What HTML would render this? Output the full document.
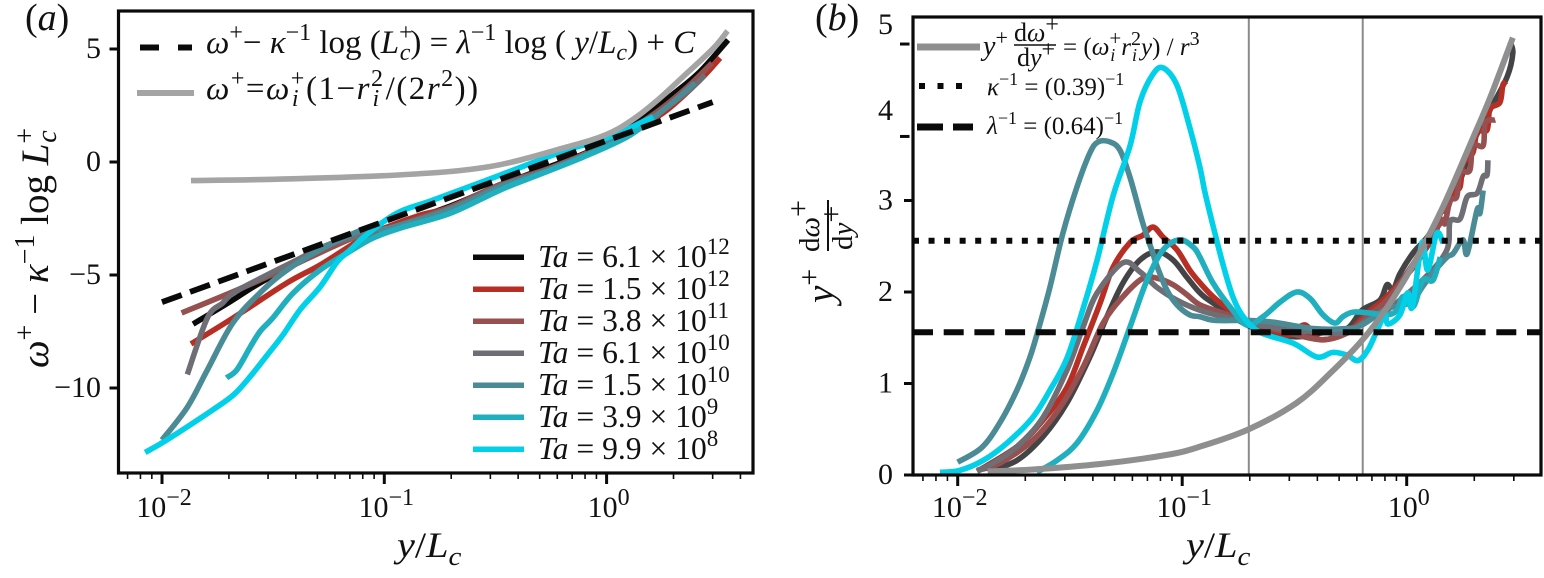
<!DOCTYPE html>
<html lang="en">
<head>
<meta charset="utf-8">
<title>Angular velocity profiles</title>
<style>
html,body{margin:0;padding:0;background:#fff;width:1544px;height:578px;overflow:hidden}
svg{display:block}
text{font-family:"Liberation Serif",serif;fill:#111}
.i{font-style:italic}
</style>
</head>
<body>
<svg id="chart" width="1544" height="578" viewBox="0 0 1544 578" xmlns="http://www.w3.org/2000/svg">
  <rect x="0" y="0" width="1544" height="578" fill="#fff"/>
  <g id="panelA"></g>
  <g id="panelB"></g>

  <g id="textA">
    <text x="25" y="30" font-size="38">(<tspan class="i">a</tspan>)</text>
    <text transform="translate(48,368) rotate(-90)" font-size="39"><tspan class="i">ω</tspan><tspan font-size="28" dy="-14">+</tspan><tspan dy="14"> − </tspan><tspan class="i">κ</tspan><tspan font-size="28" dy="-14">−1</tspan><tspan dy="14"> log </tspan><tspan class="i">L</tspan><tspan font-size="28" dy="-14">+</tspan><tspan font-size="28" class="i" dx="-15" dy="22">c</tspan></text>
    <text transform="translate(397,557) scale(1.12,1)" font-size="36"><tspan class="i">y</tspan>/<tspan class="i">L</tspan><tspan class="i" font-size="26" dy="8">c</tspan></text>

    <text x="206" y="53" font-size="33"><tspan class="i">ω</tspan><tspan font-size="24" dy="-13">+</tspan><tspan dy="13">− </tspan><tspan class="i">κ</tspan><tspan font-size="24" dy="-13">−1</tspan><tspan dy="13"> log (</tspan><tspan class="i">L</tspan><tspan font-size="24" dy="-13">+</tspan><tspan font-size="24" class="i" dx="-13" dy="20">c</tspan><tspan dy="-7">) = </tspan><tspan class="i">λ</tspan><tspan font-size="24" dy="-13">−1</tspan><tspan dy="13"> log ( </tspan><tspan class="i">y</tspan>/<tspan class="i">L</tspan><tspan font-size="24" class="i" dy="7">c</tspan><tspan dy="-7">) + </tspan><tspan class="i">C</tspan></text>
    <text x="206" y="99" font-size="33" letter-spacing="1.5"><tspan class="i">ω</tspan><tspan font-size="24" dy="-13">+</tspan><tspan dy="13">=</tspan><tspan class="i">ω</tspan><tspan font-size="24" dy="-13">+</tspan><tspan font-size="24" class="i" dx="-14" dy="20">i</tspan><tspan dx="6" dy="-7">(1−</tspan><tspan class="i">r</tspan><tspan font-size="24" dy="-13">2</tspan><tspan font-size="24" class="i" dx="-12" dy="20">i</tspan><tspan dx="5" dy="-7">/(2</tspan><tspan class="i">r</tspan><tspan font-size="24" dy="-13">2</tspan><tspan dy="13">))</tspan></text>

    <g font-size="31.6">
      <text x="538" y="267"><tspan class="i">Ta</tspan> = 6.1 × 10<tspan font-size="23" dy="-13">12</tspan></text>
      <text x="538" y="299"><tspan class="i">Ta</tspan> = 1.5 × 10<tspan font-size="23" dy="-13">12</tspan></text>
      <text x="538" y="331"><tspan class="i">Ta</tspan> = 3.8 × 10<tspan font-size="23" dy="-13">11</tspan></text>
      <text x="538" y="363"><tspan class="i">Ta</tspan> = 6.1 × 10<tspan font-size="23" dy="-13">10</tspan></text>
      <text x="538" y="395"><tspan class="i">Ta</tspan> = 1.5 × 10<tspan font-size="23" dy="-13">10</tspan></text>
      <text x="538" y="427"><tspan class="i">Ta</tspan> = 3.9 × 10<tspan font-size="23" dy="-13">9</tspan></text>
      <text x="538" y="459"><tspan class="i">Ta</tspan> = 9.9 × 10<tspan font-size="23" dy="-13">8</tspan></text>
    </g>
  </g>

  <g id="textB">
    <text x="815" y="30" font-size="38">(<tspan class="i">b</tspan>)</text>
    <g>
      <text transform="translate(833,303) rotate(-90)" font-size="39"><tspan class="i">y</tspan><tspan font-size="30" dy="-14">+</tspan></text>
      <text transform="translate(819,252) rotate(-90)" font-size="29">d<tspan class="i">ω</tspan><tspan font-size="30" dy="-11">+</tspan></text>
      <line x1="828" y1="200" x2="828" y2="251" stroke="#111" stroke-width="2"/>
      <text transform="translate(852,250) rotate(-90)" font-size="29">d<tspan class="i">y</tspan><tspan font-size="30" dy="-11">+</tspan></text>
    </g>
    <text transform="translate(1186,557) scale(1.12,1)" font-size="36"><tspan class="i">y</tspan>/<tspan class="i">L</tspan><tspan class="i" font-size="26" dy="8">c</tspan></text>

    <text x="983" y="55" font-size="28"><tspan class="i">y</tspan><tspan font-size="22" dy="-10">+</tspan></text>
    <text x="1014" y="41" font-size="26">d<tspan class="i">ω</tspan><tspan font-size="24" dy="-9">+</tspan></text>
    <line x1="1014" y1="45" x2="1056" y2="45" stroke="#111" stroke-width="1.5"/>
    <text x="1017" y="66" font-size="26">d<tspan class="i">y</tspan><tspan font-size="24" dy="-9">+</tspan></text>
    <text x="1063" y="55" font-size="25">= (<tspan class="i">ω</tspan><tspan font-size="21" dy="-10">+</tspan><tspan font-size="18" class="i" dx="-11" dy="16">i</tspan><tspan class="i" dx="6" dy="-6">r</tspan><tspan font-size="20" dy="-10">2</tspan><tspan font-size="18" class="i" dx="-9" dy="16">i</tspan><tspan class="i" dx="4" dy="-6">y</tspan>) / <tspan class="i">r</tspan><tspan font-size="20" dy="-10">3</tspan></text>
    <text x="987" y="95" font-size="25"><tspan class="i">κ</tspan><tspan font-size="18" dy="-10">−1</tspan><tspan dy="10"> = (0.39)</tspan><tspan font-size="18" dy="-10">−1</tspan></text>
    <text x="987" y="134" font-size="25"><tspan class="i">λ</tspan><tspan font-size="18" dy="-10">−1</tspan><tspan dy="10"> = (0.64)</tspan><tspan font-size="18" dy="-10">−1</tspan></text>
  </g>
</svg>
<script>
// ---------- shared tick data ----------
const xTickDecades = [-2, -1, 0];
const xTickLabelBase = ["10", "10", "10"];
const xTickLabelExp = ["−2", "−1", "0"];
const xMinorMultipliers = [2, 3, 4, 5, 6, 7, 8, 9];

// ---------- panel (a) data ----------
const aYTicks = [5, 0, -5, -10];
const aYTickLabels = ["5", "0", "−5", "−10"];

const aLogLawX = [0.01, 3.0];
const aLogLawY = [-6.2, 2.65];
const aOuterX = [0.0135, 0.03, 0.118, 0.3, 0.66, 1.0, 1.32, 1.7, 2.2, 3.0, 3.5];
const aOuterY = [-0.82, -0.77, -0.57, -0.2, 0.66, 1.22, 1.9, 2.75, 3.76, 5.0, 5.8];

const aBlackX = [0.0138, 0.0202, 0.0276, 0.0418, 0.0724, 0.103, 0.198, 0.332, 0.557, 0.784, 1.0, 1.41, 1.99, 2.63, 3.52];
const aBlackY = [-7.17, -6.19, -5.35, -4.42, -3.32, -2.9, -1.95, -1.02, -0.2, 0.35, 0.85, 1.85, 3.0, 4.0, 5.4];
const aRedX = [0.0135, 0.0209, 0.0365, 0.0514, 0.0778, 0.103, 0.145, 0.198, 0.332, 0.557, 1.0, 1.41, 1.87, 2.63, 3.24];
const aRedY = [-8.05, -6.9, -5.35, -4.56, -3.45, -2.88, -2.35, -2.0, -1.0, -0.27, 0.75, 1.55, 2.3, 3.63, 4.6];
const aMauveX = [0.01225, 0.0218, 0.0365, 0.0724, 0.103, 0.198, 0.332, 0.557, 1.0, 1.62, 2.3, 2.98];
const aMauveY = [-6.68, -5.66, -4.69, -3.36, -2.95, -2.0, -1.0, -0.27, 0.8, 2.1, 3.3, 4.38];
const aGrayX = [0.013, 0.016, 0.0187, 0.0209, 0.0285, 0.0389, 0.0588, 0.103, 0.198, 0.332, 0.557, 1.0, 1.62, 2.3, 2.77];
const aGrayY = [-9.4, -6.9, -6.25, -5.8, -5.09, -4.42, -3.58, -2.95, -2.05, -1.05, -0.3, 0.75, 2.0, 3.1, 3.85];
const aDarkTealX = [0.01, 0.013, 0.016, 0.0209, 0.0285, 0.0365, 0.0514, 0.0837, 0.103, 0.198, 0.332, 0.557, 1.0, 1.62, 2.5];
const aDarkTealY = [-12.3, -10.85, -9.2, -7.1, -5.66, -4.78, -3.89, -2.92, -2.95, -2.1, -1.1, -0.35, 0.75, 1.95, 3.5];
const aTealX = [0.0195, 0.0217, 0.0249, 0.0276, 0.0315, 0.0389, 0.0514, 0.068, 0.0891, 0.122, 0.198, 0.332, 0.467, 0.785, 1.23, 1.63];
const aTealY = [-9.55, -9.2, -8.2, -7.5, -6.9, -5.8, -4.78, -4.03, -3.36, -2.88, -2.27, -1.24, -0.66, 0.22, 1.1, 1.95];
const aCyanX = [0.0084, 0.0105, 0.0169, 0.021, 0.0249, 0.0297, 0.035, 0.0417, 0.0514, 0.0614, 0.0702, 0.0837, 0.114, 0.166, 0.332, 0.664, 1.0, 1.62];
const aCyanY = [-12.85, -12.3, -10.97, -10.3, -9.5, -8.55, -7.65, -6.55, -5.53, -4.42, -3.89, -3.2, -2.26, -1.68, -0.58, 0.53, 1.05, 2.0];

// ---------- panel (b) data ----------
const bYTickMarks = [0, 1, 2, 3, 3.7, 4.71];
const bYLabelPositions = [0, 1, 2, 3, 3.98, 4.92];
const bYTickLabels = ["0", "1", "2", "3", "4", "5"];
const bVerticalGuides = [0.198, 0.637];
const bKappaInverse = [2.56];
const bLambdaInverse = [1.56];

const bBlackX = [0.0136, 0.01837, 0.024, 0.0307, 0.0388, 0.0462, 0.0545, 0.0649, 0.0773, 0.091, 0.105, 0.12, 0.137, 0.194, 0.254, 0.324, 0.411, 0.542, 0.632, 0.76, 0.817, 0.869, 0.933, 1.07, 1.27, 1.51, 1.73, 1.97, 2.35, 2.8, 2.97, 2.89];
const bBlackY = [0.04, 0.16, 0.42, 0.79, 1.29, 1.73, 2.1, 2.35, 2.44, 2.35, 2.16, 1.99, 1.88, 1.64, 1.55, 1.51, 1.55, 1.6, 1.8, 1.91, 2.08, 2.02, 2.2, 2.43, 2.64, 3.0, 3.22, 3.63, 3.99, 4.35, 4.61, 4.73];
const bRedX = [0.0122, 0.01837, 0.024, 0.0307, 0.0362, 0.0431, 0.0492, 0.0586, 0.0668, 0.0741, 0.0822, 0.0948, 0.108, 0.12, 0.137, 0.163, 0.194, 0.254, 0.302, 0.352, 0.411, 0.542, 0.665, 0.76, 0.869, 1.07, 1.27, 1.34, 1.41, 1.51, 1.61, 1.73, 1.78, 1.97, 2.06, 2.28, 2.35, 2.6, 2.68, 2.77];
const bRedY = [0.04, 0.31, 0.6, 0.96, 1.4, 1.88, 2.27, 2.54, 2.62, 2.71, 2.6, 2.46, 2.24, 2.1, 1.95, 1.8, 1.67, 1.58, 1.53, 1.64, 1.48, 1.56, 1.77, 1.88, 2.02, 2.27, 2.54, 2.6, 2.86, 2.9, 3.08, 3.15, 3.4, 3.52, 3.75, 3.77, 4.0, 4.07, 4.26, 4.3];
const bMauveX = [0.0122, 0.0154, 0.0216, 0.0286, 0.0362, 0.0444, 0.0545, 0.0668, 0.0773, 0.091, 0.105, 0.12, 0.152, 0.194, 0.273, 0.411, 0.542, 0.665, 0.869, 1.41, 1.48, 1.56, 1.67, 1.73, 1.91, 1.97, 2.19, 2.24, 2.48];
const bMauveY = [0.05, 0.13, 0.38, 0.74, 1.18, 1.66, 1.95, 2.15, 2.15, 2.08, 1.97, 1.86, 1.77, 1.67, 1.58, 1.48, 1.55, 1.73, 1.99, 2.75, 2.75, 3.0, 3.04, 3.3, 3.33, 3.6, 3.6, 3.85, 3.88];
const bGrayX = [0.0122, 0.01436, 0.01837, 0.024, 0.0307, 0.0362, 0.0418, 0.0545, 0.0649, 0.0773, 0.0948, 0.12, 0.152, 0.194, 0.273, 0.411, 0.542, 0.665, 0.817, 1.2, 1.51, 1.56, 1.73, 1.86, 2.06, 2.19, 2.28, 2.3];
const bGrayY = [0.04, 0.13, 0.31, 0.63, 1.15, 1.62, 1.99, 2.32, 2.22, 2.05, 1.91, 1.8, 1.73, 1.67, 1.6, 1.56, 1.56, 1.69, 1.8, 2.15, 2.46, 2.77, 2.8, 3.04, 3.08, 3.26, 3.28, 3.44];
const bDarkTealX = [0.01, 0.0128, 0.0154, 0.01837, 0.021, 0.0233, 0.0258, 0.0294, 0.034, 0.0388, 0.0422, 0.0477, 0.0528, 0.0586, 0.0668, 0.0741, 0.0773, 0.0855, 0.0948, 0.108, 0.12, 0.14, 0.194, 0.254, 0.383, 0.542, 0.632, 0.817, 0.906, 1.06, 1.17, 1.3, 1.51, 1.61, 1.78, 1.86, 2.06, 2.12, 2.19];
const bDarkTealY = [0.14, 0.3, 0.57, 0.93, 1.29, 1.66, 2.06, 2.64, 3.15, 3.52, 3.64, 3.64, 3.55, 3.25, 2.75, 2.42, 2.28, 2.02, 1.86, 1.75, 1.73, 1.69, 1.69, 1.67, 1.6, 1.6, 1.64, 1.82, 1.84, 1.9, 2.05, 2.2, 2.38, 2.42, 2.57, 2.42, 2.9, 2.86, 3.11];
const bTealX = [0.0225, 0.0277, 0.034, 0.0418, 0.0492, 0.0586, 0.0697, 0.0822, 0.0977, 0.112, 0.12, 0.137, 0.163, 0.194, 0.229, 0.273, 0.324, 0.371, 0.424, 0.479, 0.519, 0.577, 0.687, 0.817, 0.906, 0.963, 1.07, 1.18, 1.31, 1.41];
const bTealY = [0.03, 0.16, 0.35, 0.71, 1.11, 1.62, 2.13, 2.46, 2.57, 2.49, 2.38, 2.1, 1.84, 1.64, 1.73, 1.89, 2.0, 1.93, 1.75, 1.66, 1.73, 1.78, 1.77, 1.75, 1.8, 1.95, 1.84, 2.13, 2.13, 2.38];
const bCyanX = [0.00834, 0.0102, 0.013, 0.0166, 0.0216, 0.0258, 0.0307, 0.0362, 0.0418, 0.0492, 0.0586, 0.0649, 0.0741, 0.0822, 0.0948, 0.108, 0.12, 0.126, 0.137, 0.152, 0.168, 0.187, 0.222, 0.312, 0.398, 0.469, 0.542, 0.607, 0.673, 0.738, 0.8, 0.826, 0.933, 1.01, 1.06, 1.17, 1.24, 1.36, 1.45];
const bCyanY = [0.03, 0.05, 0.16, 0.35, 0.63, 0.93, 1.28, 1.82, 2.35, 3.05, 3.6, 4.08, 4.38, 4.45, 4.26, 3.8, 3.36, 3.1, 2.73, 2.3, 1.95, 1.73, 1.56, 1.44, 1.29, 1.34, 1.31, 1.25, 1.37, 1.58, 1.75, 1.65, 1.75, 1.99, 1.84, 2.54, 2.24, 2.64, 2.54];
const bProfileX = [0.0136, 0.0216, 0.0431, 0.0855, 0.12, 0.198, 0.324, 0.46, 0.637, 0.817, 1.07, 1.45, 1.97, 2.35, 2.97];
const bProfileY = [0.04, 0.06, 0.12, 0.22, 0.31, 0.5, 0.79, 1.12, 1.48, 1.83, 2.3, 2.93, 3.68, 4.12, 4.78];

// ---------- legend styling ----------
const COLORS = {black:"#0a0a0a", darkGray:"#444446", red:"#b72f24", mauve:"#95504f", gray:"#6e6e74", darkTeal:"#4a8b96", teal:"#20afbe", cyan:"#02d0e8", outerA:"#a4a4a4", outerB:"#8f8f8f"};
const LW = 5.6;

const SVGNS = "http://www.w3.org/2000/svg";
function make(tag, parent, attrs) {
  const el = document.createElementNS(SVGNS, tag);
  for (const k in attrs) el.setAttribute(k, attrs[k]);
  parent.appendChild(el);
  return el;
}

function scales(p) {
  return {
    x: v => p.x0 + p.decade * (Math.log10(v) + 2),
    y: v => p.y0 - p.unit * v
  };
}

function smoothPath(pts) {
  let d = "M" + pts[0][0].toFixed(2) + "," + pts[0][1].toFixed(2);
  for (let i = 0; i < pts.length - 1; i++) {
    const p0 = pts[Math.max(i - 1, 0)], p1 = pts[i], p2 = pts[i + 1], p3 = pts[Math.min(i + 2, pts.length - 1)];
    const c1x = p1[0] + (p2[0] - p0[0]) / 6, c1y = p1[1] + (p2[1] - p0[1]) / 6;
    const c2x = p2[0] - (p3[0] - p1[0]) / 6, c2y = p2[1] - (p3[1] - p1[1]) / 6;
    d += "C" + c1x.toFixed(2) + "," + c1y.toFixed(2) + " " + c2x.toFixed(2) + "," + c2y.toFixed(2) + " " + p2[0].toFixed(2) + "," + p2[1].toFixed(2);
  }
  return d;
}

function drawSeries(g, s, xs, ys, color, width, name, dash) {
  const pts = xs.map((v, i) => [s.x(v), s.y(ys[i])]);
  const attrs = {d: smoothPath(pts), fill: "none", stroke: color, "stroke-width": width, "stroke-linejoin": "round"};
  if (dash) attrs["stroke-dasharray"] = dash;
  const el = make("path", g, attrs);
  
  
  return el;
}

function drawLegendLine(g, x1, x2, y, color, width, name, dash) {
  const attrs = {x1: x1, x2: x2, y1: y, y2: y, stroke: color, "stroke-width": width};
  if (dash) attrs["stroke-dasharray"] = dash;
  const el = make("line", g, attrs);
  
  
}

function drawFrame(g, p) {
  const el = make("rect", g, {x: p.left, y: p.top, width: p.right - p.left, height: p.bottom - p.top, fill: "none", stroke: "#0a0a0a", "stroke-width": 3.2});
  
  
}

function drawXAxis(g, p, s) {
  xTickDecades.forEach((dec, i) => {
    const px = s.x(Math.pow(10, dec));
    const tick = make("line", g, {x1: px, x2: px, y1: p.bottom, y2: p.bottom + 11, stroke: "#0a0a0a", "stroke-width": 3});
    
    
    const t = make("text", g, {x: px + 2, y: 517, "font-size": 30, "text-anchor": "middle"});
    
    
    t.textContent = xTickLabelBase[i];
    const sup = make("tspan", t, {"font-size": 24, dy: -12});
    sup.textContent = xTickLabelExp[i];
  });
  [-3, -2, -1, 0].forEach(dec => {
    xMinorMultipliers.forEach(m => {
      const v = m * Math.pow(10, dec);
      const px = s.x(v);
      if (px <= p.left + 2 || px >= p.right - 2) return;
      const tick = make("line", g, {x1: px, x2: px, y1: p.bottom, y2: p.bottom + 6, stroke: "#0a0a0a", "stroke-width": 1.6});
      
      
    });
  });
}

// ---------- panel (a) ----------
(function () {
  const g = document.getElementById("panelA");
  const p = {left: 118.5, right: 753, top: 11, bottom: 473, x0: 162, decade: 222.3, y0: 162, unit: 22.6};
  const s = scales(p);

  drawSeries(g, s, aBlackX, aBlackY, COLORS.black, LW, "series-ta-6-1e12");
  drawSeries(g, s, aRedX, aRedY, COLORS.red, LW, "series-ta-1-5e12");
  drawSeries(g, s, aMauveX, aMauveY, COLORS.mauve, LW, "series-ta-3-8e11");
  drawSeries(g, s, aGrayX, aGrayY, COLORS.gray, LW, "series-ta-6-1e10");
  drawSeries(g, s, aDarkTealX, aDarkTealY, COLORS.darkTeal, LW, "series-ta-1-5e10");
  drawSeries(g, s, aTealX, aTealY, COLORS.teal, LW, "series-ta-3-9e9");
  drawSeries(g, s, aCyanX, aCyanY, COLORS.cyan, LW, "series-ta-9-9e8");
  drawSeries(g, s, aOuterX, aOuterY, COLORS.outerA, 5.6, "outer-profile-curve");
  drawSeries(g, s, aLogLawX, aLogLawY, COLORS.black, 5.8, "log-law-dashed-line", "21 9");

  drawFrame(g, p);
  drawXAxis(g, p, s);

  aYTicks.forEach((v, i) => {
    const py = s.y(v);
    const tick = make("line", g, {x1: p.left - 9, x2: p.left, y1: py, y2: py, stroke: "#0a0a0a", "stroke-width": 3});
    
    
    const t = make("text", g, {x: 101, y: py + 9, "font-size": 30, "text-anchor": "end"});
    
    
    t.textContent = aYTickLabels[i];
  });

  drawLegendLine(g, 140, 192, 47.5, COLORS.black, 6, "legend-log-law-line", "19 19");
  drawLegendLine(g, 137, 194, 93, COLORS.outerA, 6, "legend-outer-profile-line");
  drawLegendLine(g, 473, 524, 257.3, COLORS.black, 5.5, "legend-line-ta-6-1e12");
  drawLegendLine(g, 473, 524, 289.3, COLORS.red, 5.5, "legend-line-ta-1-5e12");
  drawLegendLine(g, 473, 524, 321.3, COLORS.mauve, 5.5, "legend-line-ta-3-8e11");
  drawLegendLine(g, 473, 524, 353.3, COLORS.gray, 5.5, "legend-line-ta-6-1e10");
  drawLegendLine(g, 473, 524, 385.3, COLORS.darkTeal, 5.5, "legend-line-ta-1-5e10");
  drawLegendLine(g, 473, 524, 417.3, COLORS.teal, 5.5, "legend-line-ta-3-9e9");
  drawLegendLine(g, 473, 524, 449.3, COLORS.cyan, 5.5, "legend-line-ta-9-9e8");
})();

// ---------- panel (b) ----------
(function () {
  const g = document.getElementById("panelB");
  const p = {left: 913, right: 1541, top: 17, bottom: 475, x0: 957.7, decade: 224.5, y0: 475, unit: 91.5};
  const s = scales(p);

  bVerticalGuides.forEach(v => {
    const px = s.x(v);
    const guide = make("line", g, {x1: px, x2: px, y1: p.top, y2: p.bottom, stroke: "#8a8a8a", "stroke-width": 2});
    
    
  });

  drawSeries(g, s, bBlackX, bBlackY, COLORS.darkGray, LW, "series-ta-6-1e12");
  drawSeries(g, s, bRedX, bRedY, COLORS.red, LW, "series-ta-1-5e12");
  drawSeries(g, s, bMauveX, bMauveY, COLORS.mauve, LW, "series-ta-3-8e11");
  drawSeries(g, s, bGrayX, bGrayY, COLORS.gray, LW, "series-ta-6-1e10");
  drawSeries(g, s, bDarkTealX, bDarkTealY, COLORS.darkTeal, LW, "series-ta-1-5e10");
  drawSeries(g, s, bTealX, bTealY, COLORS.teal, LW, "series-ta-3-9e9");
  drawSeries(g, s, bCyanX, bCyanY, COLORS.cyan, LW, "series-ta-9-9e8");
  drawSeries(g, s, bProfileX, bProfileY, COLORS.outerB, 6, "gradient-profile-curve");

  const kappaY = s.y(bKappaInverse[0]);
  const dotted = make("line", g, {x1: p.left, x2: p.right, y1: kappaY, y2: kappaY, stroke: "#0a0a0a", "stroke-width": 6, "stroke-dasharray": "6 9.55"});
  
  
  const lambdaY = s.y(bLambdaInverse[0]);
  const dashed = make("line", g, {x1: p.left, x2: p.right, y1: lambdaY, y2: lambdaY, stroke: "#0a0a0a", "stroke-width": 6, "stroke-dasharray": "20 10.7"});
  
  

  drawFrame(g, p);
  drawXAxis(g, p, s);

  bYTickMarks.forEach(v => {
    const py = s.y(v);
    const tick = make("line", g, {x1: v > 3 ? 900 : 904, x2: v > 3 ? 909.5 : p.left, y1: py, y2: py, stroke: "#0a0a0a", "stroke-width": 3});
    
    
  });
  bYLabelPositions.forEach((v, i) => {
    const t = make("text", g, {x: 893, y: s.y(v) + 9, "font-size": 30, "text-anchor": "end"});
    
    
    t.textContent = bYTickLabels[i];
  });

  drawLegendLine(g, 917, 980, 47, COLORS.outerB, 7, "legend-gradient-line");
  drawLegendLine(g, 919, 974, 86, COLORS.black, 6, "legend-kappa-line", "6 12.5");
  drawLegendLine(g, 917, 973, 127, COLORS.black, 7, "legend-lambda-line", "26 10");
})();
</script>
</body>
</html>
